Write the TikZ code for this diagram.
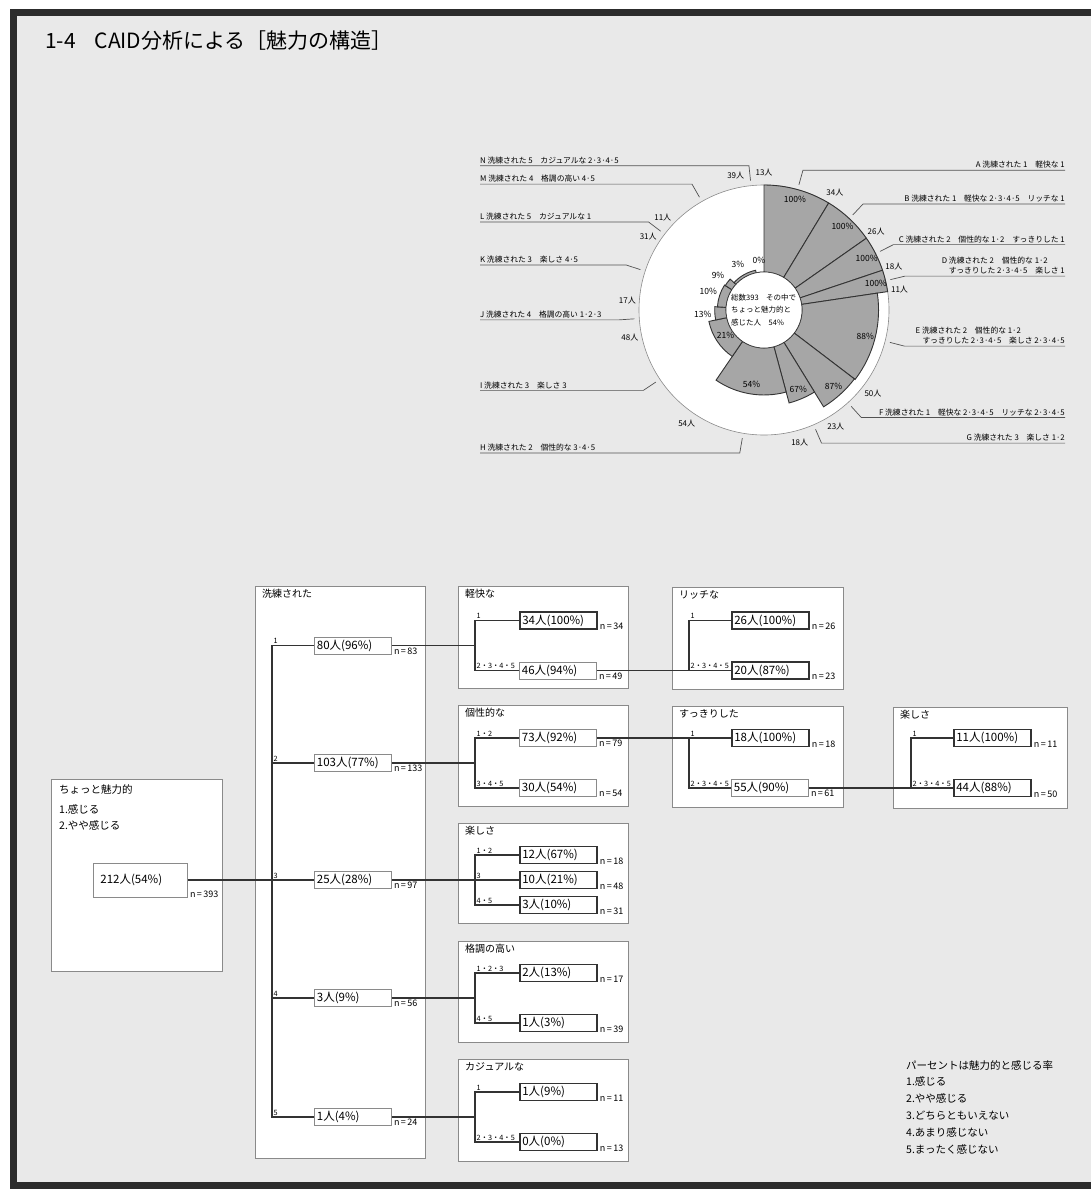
\documentclass[tikz,border=0pt]{standalone}
\usepackage{fontspec}
\setmainfont{Noto Sans CJK JP}
\definecolor{paper}{HTML}{E9E9E9}
\definecolor{frameink}{HTML}{2C2C2C}
\definecolor{ink}{HTML}{333333}
\definecolor{boxgray}{HTML}{8A8A8A}
\definecolor{sectorgray}{HTML}{A6A6A6}

\tikzset{
  panel/.style={draw=boxgray, fill=white, line width=0.6pt, inner sep=0pt, anchor=north west},
  ptitle/.style={anchor=north west, inner sep=0pt, align=left, font=\fontsize{10}{16}\selectfont},
  cnt/.style={draw=boxgray, fill=white, line width=0.8pt, minimum width=77pt, minimum height=17pt,
    text width=72pt, inner sep=2pt, align=left, anchor=west, font=\fontsize{11.5}{12}\selectfont},
  leaf/.style={cnt, draw=ink, line width=1.7pt},
  nlab/.style={anchor=base west, xshift=2pt, inner sep=0pt, font=\fontsize{9}{10}\selectfont},
  brlab/.style={anchor=base west, xshift=1.5pt, yshift=2pt, inner sep=0pt, font=\fontsize{7.3}{9}\selectfont},
  link/.style={draw=ink, line width=1.8pt},
  sector/.style={fill=sectorgray, draw=ink, line width=0.9pt},
  pct/.style={inner sep=0pt, font=\fontsize{8.5}{9}\selectfont},
  cnum/.style={inner sep=0pt, font=\fontsize{8}{9}\selectfont},
  tag/.style={inner xsep=0pt, inner ysep=1.5pt, font=\fontsize{7.8}{10}\selectfont},
  leader/.style={draw=ink!85, line width=0.7pt},
}

\begin{document}
\begin{tikzpicture}[x=1pt,y=-1pt]
  \useasboundingbox (0,0) rectangle (1091,1190);
  \fill[white] (0,0) rectangle (1091,1190);
  \fill[paper] (13,12) rectangle (1091,1185);
  \draw[frameink, line width=7pt] (1091,12.5) -- (13,12.5) -- (13,1185) -- (1091,1185);

  \node[anchor=base west, inner sep=0pt, font=\fontsize{21}{21}\selectfont] (title) at (45,49)
    {1-4\hspace{0.9em}CAID分析による［魅力の構造］};

  % pie: sector angle = count, radius = percent
  \begin{scope}[shift={(764,310)}, yscale=-1]
    \filldraw[fill=white, draw=boxgray, line width=0.6pt] (0,0) circle[radius=125];
    \foreach \ia/\ib/\pc/\lt in {0/34/100/A, 34/60/100/B, 60/78/100/C, 78/89/100/D, 89/139/88/E,
        139/162/87/F, 162/180/67/G, 180/234/54/H, 234/282/21/I, 282/299/13/J, 299/330/10/K,
        330/341/9/L, 341/380/3/M, 380/393/0/N} {
      \pgfmathsetmacro\angA{90-\ia/393*360}
      \pgfmathsetmacro\angB{90-\ib/393*360}
      \pgfmathsetmacro\angM{(\angA+\angB)/2}
      \pgfmathsetmacro\rOut{38+0.87*\pc}
      \pgfmathsetmacro\rLab{\pc>15 ? \rOut-10 : \rOut+12}
      \pgfmathtruncatemacro\nCount{\ib-\ia}
      \filldraw[sector] (\angA:38) -- (\angA:\rOut) arc[start angle=\angA, end angle=\angB, radius=\rOut]
        -- (\angB:38) arc[start angle=\angB, end angle=\angA, radius=38] -- cycle;
      \node[pct] (q\lt) at (\angM:\rLab) {\pc\%};
      \node[cnum] (m\lt) at (\angB:137) {\nCount 人};
      \coordinate (e\lt) at (\angM:130);
      \coordinate (b\lt) at (\angM:145);
    }
    \filldraw[fill=white, draw=ink, line width=0.6pt] (0,0) circle[radius=38];
    \node[anchor=west, inner sep=0pt, align=left, font=\fontsize{7.5}{12.5}\selectfont] (ctr) at (-33,0)
      {総数393　その中で\\ちょっと魅力的と\\感じた人　54\%};
  \end{scope}

  \coordinate (rx) at (1065,0);
  \coordinate (lx) at (480,0);
  \node[tag, anchor=south east] (lA) at (bA -| rx) {A 洗練された 1　軽快な 1};
  \node[tag, anchor=south east] (lB) at (bB -| rx) {B 洗練された 1　軽快な 2·3·4·5　リッチな 1};
  \node[tag, anchor=south east] (lC) at (bC -| rx) {C 洗練された 2　個性的な 1·2　すっきりした 1};
  \node[tag, anchor=south east, align=left] (lD) at (bD -| rx)
    {D 洗練された 2　個性的な 1·2\\\hspace*{0.9em}すっきりした 2·3·4·5　楽しさ 1};
  \node[tag, anchor=south east, align=left] (lE) at (bE -| rx)
    {E 洗練された 2　個性的な 1·2\\\hspace*{0.9em}すっきりした 2·3·4·5　楽しさ 2·3·4·5};
  \node[tag, anchor=south east] (lF) at (bF -| rx) {F 洗練された 1　軽快な 2·3·4·5　リッチな 2·3·4·5};
  \node[tag, anchor=south east] (lG) at (bG -| rx) {G 洗練された 3　楽しさ 1·2};
  \node[tag, anchor=south west] (lH) at (bH -| lx) {H 洗練された 2　個性的な 3·4·5};
  \node[tag, anchor=south west] (lI) at (bI -| lx) {I 洗練された 3　楽しさ 3};
  \node[tag, anchor=south west] (lJ) at (bJ -| lx) {J 洗練された 4　格調の高い 1·2·3};
  \node[tag, anchor=south west] (lK) at (bK -| lx) {K 洗練された 3　楽しさ 4·5};
  \node[tag, anchor=south west] (lL) at (bL -| lx) {L 洗練された 5　カジュアルな 1};
  \node[tag, anchor=south west] (lM) at (bM -| lx) {M 洗練された 4　格調の高い 4·5};
  \node[tag, anchor=south west] (lN) at (bN -| lx) {N 洗練された 5　カジュアルな 2·3·4·5};
  \foreach \lt in {A,B,C,D,E,F,G}
    \draw[leader] (e\lt) -- (b\lt) -- (l\lt.south east);
  \foreach \lt in {H,I,J,K,L,M,N}
    \draw[leader] (e\lt) -- (b\lt) -- (l\lt.south west);

  % tree panels
  \node[panel, minimum width=171pt, minimum height=192pt] (p0) at (51,779) {};
  \node[ptitle, font=\fontsize{10.5}{16}\selectfont] (p0-t) at ([xshift=8pt,yshift=-5pt]p0.north west)
    {ちょっと魅力的\\[4pt]1.感じる\\2.やや感じる};
  \foreach \nm/\x/\y/\w/\h/\ttl in {p1/255/586/170/572/洗練された, p2/458/586/170/102/軽快な,
      p3/458/705/170/101/個性的な, p4/458/823/170/100/楽しさ, p5/458/941/170/101/格調の高い,
      p6/458/1059/170/102/カジュアルな, p7/672/587/171/102/リッチな, p8/672/706/171/101/すっきりした,
      p9/893/707/174/101/楽しさ} {
    \node[panel, minimum width=\w pt, minimum height=\h pt] (\nm) at (\x,\y) {};
    \node[ptitle] (\nm-t) at ([xshift=7pt,yshift=-3pt]\nm.north west) {\ttl};
  }

  % count boxes
  \node[cnt, minimum width=94pt, minimum height=34pt, text width=80pt] (root) at (93,880) {212人(54\%)};
  \foreach \nm/\st/\x/\y/\t in {c1/cnt/314/645.5/80人(96\%), c2/cnt/314/763/103人(77\%),
      c3/cnt/314/880/25人(28\%), c4/cnt/314/998/3人(9\%), c5/cnt/314/1117/1人(4\%),
      g1/leaf/519/620.5/34人(100\%), g2/cnt/519/670.5/46人(94\%),
      k1/cnt/519/738/73人(92\%), k2/cnt/519/788/30人(54\%),
      f1/leaf/519/855/12人(67\%), f2/leaf/519/880/10人(21\%), f3/leaf/519/905/3人(10\%),
      h1/leaf/519/973/2人(13\%), h2/leaf/519/1023/1人(3\%),
      j1/leaf/519/1092/1人(9\%), j2/leaf/519/1142/0人(0\%),
      r1/leaf/731/620.5/26人(100\%), r2/leaf/731/670.5/20人(87\%),
      s1/leaf/731/738/18人(100\%), s2/cnt/731/788/55人(90\%),
      t1/leaf/953/738/11人(100\%), t2/leaf/953/788/44人(88\%)}
    \node[\st] (\nm) at (\x,\y) {\t};

  \foreach \nm/\nv in {root/393, c1/83, c2/133, c3/97, c4/56, c5/24, g1/34, g2/49, k1/79, k2/54,
      f1/18, f2/48, f3/31, h1/17, h2/39, j1/11, j2/13, r1/26, r2/23, s1/18, s2/61, t1/11, t2/50}
    \node[nlab] (n-\nm) at (\nm.south east) {n\,=\,\nv};

  % connectors
  \coordinate (tr1) at (272,0);
  \coordinate (tr2) at (475,0);
  \coordinate (tr3) at (689,0);
  \coordinate (tr4) at (911,0);
  \draw[link] (root.east) -- (c3.west);
  \draw[link] (c1.west) -| (c5.west -| tr1) -- (c5.west);
  \foreach \nm in {c2,c3,c4}
    \draw[link] (\nm.west -| tr1) -- (\nm.west);
  \foreach \nm in {c1,c2,c4,c5}
    \draw[link] (\nm.east) -- (\nm.east -| tr2);
  \draw[link] (c3.east) -- (f2.west);
  \foreach \ua/\ub in {g1/g2, k1/k2, f1/f3, h1/h2, j1/j2}
    \draw[link] (\ua.west) -| (\ub.west -| tr2) -- (\ub.west);
  \draw[link] (g2.east) -- (r2.west);
  \draw[link] (r1.west) -| (r2.west -| tr3);
  \draw[link] (k1.east) -- (s1.west);
  \draw[link] (s2.west) -| (s1.west -| tr3);
  \draw[link] (s2.east) -- (t2.west);
  \draw[link] (t1.west) -| (t2.west -| tr4);

  \foreach \nm/\tr/\t in {c1/tr1/1, c2/tr1/2, c3/tr1/3, c4/tr1/4, c5/tr1/5, g1/tr2/1, g2/tr2/2・3・4・5,
      k1/tr2/1・2, k2/tr2/3・4・5, f1/tr2/1・2, f2/tr2/3, f3/tr2/4・5, h1/tr2/1・2・3, h2/tr2/4・5,
      j1/tr2/1, j2/tr2/2・3・4・5, r1/tr3/1, r2/tr3/2・3・4・5, s1/tr3/1, s2/tr3/2・3・4・5,
      t1/tr4/1, t2/tr4/2・3・4・5}
    \node[brlab] (b-\nm) at (\nm.west -| \tr) {\t};

  \node[anchor=north west, inner sep=0pt, align=left, font=\fontsize{10.5}{16.8}\selectfont] (key) at (906,1060)
    {パーセントは魅力的と感じる率\\1.感じる\\2.やや感じる\\3.どちらともいえない\\4.あまり感じない\\5.まったく感じない};
\end{tikzpicture}
\end{document}
